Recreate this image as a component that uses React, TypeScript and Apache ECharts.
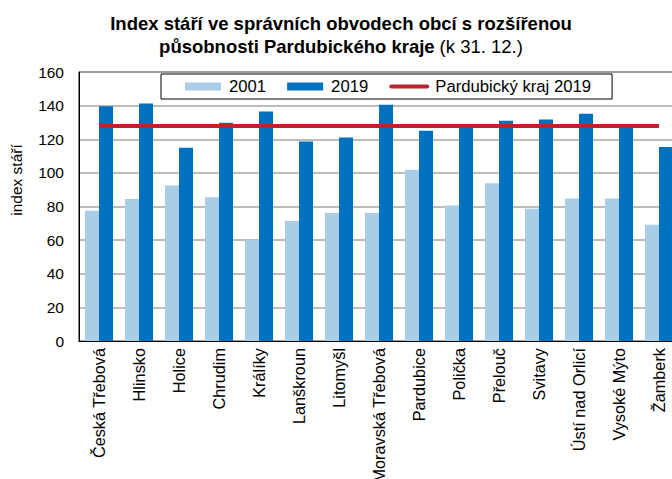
import React, { useEffect, useRef } from "react";
import * as echarts from "echarts";

const categories = [
  "Česká Třebová", "Hlinsko", "Holice", "Chrudim", "Králíky", "Lanškroun", "Litomyšl",
  "Moravská Třebová", "Pardubice", "Polička", "Přelouč", "Svitavy", "Ústí nad Orlicí",
  "Vysoké Mýto", "Žamberk",
];
const values2001 = [77.4, 84.5, 92.5, 85.5, 60.1, 71.4, 76.2, 76.2, 101.8, 80.6, 93.8, 78.6, 84.7, 84.7, 69.2];
const values2019 = [139.7, 141.2, 114.9, 129.8, 136.5, 118.7, 121.0, 140.5, 125.0, 127.3, 131.0, 131.7, 135.1, 127.2, 115.4];
const krajValue = 127.9;
const krajLine = categories.map(() => krajValue);
const yTicks = { min: 0, max: 160, interval: 20 };

const FONT = "'Liberation Sans', Arial, sans-serif";

export default function App() {
  const ref = useRef<HTMLDivElement>(null);
  useEffect(() => {
    if (!ref.current) return;
    const chart = echarts.init(ref.current, undefined, { renderer: "svg" });
    chart.setOption({
      animation: false,
      backgroundColor: "#ffffff",
      textStyle: { fontFamily: FONT },
      title: {
        text: "{b|Index stáří ve správních obvodech obcí s rozšířenou}\n{b|působnosti Pardubického kraje} {n|(k 31. 12.)}",
        left: 336,
        textAlign: "center",
        top: 7,
        textStyle: {
          rich: {
            b: { fontFamily: FONT, fontSize: 18.5, fontWeight: "bold", color: "#000", lineHeight: 23 },
            n: { fontFamily: FONT, fontSize: 18.5, fontWeight: "normal", color: "#000", lineHeight: 23 },
          },
        },
      },
      legend: {
        left: 161,
        top: 74,
        borderColor: "#000",
        borderWidth: 1,
        borderRadius: 0,
        padding: [4, 21, 4, 24],
        itemWidth: 36,
        itemHeight: 8,
        itemGap: 21,
        textStyle: { fontFamily: FONT, fontSize: 16.7, color: "#000", padding: [0, 0, 0, 3] },
        data: [
          { name: "2001", icon: "rect" },
          { name: "2019", icon: "rect" },
          { name: "Pardubický kraj 2019", itemStyle: { opacity: 0 }, lineStyle: { width: 4, cap: "round" } },
        ],
      },
      grid: {
        left: 79,
        top: 72,
        width: 600,
        height: 269,
        show: true,
        borderColor: "#000",
        borderWidth: 1,
        backgroundColor: "transparent",
        outerBoundsMode: "none",
        containLabel: false,
      },
      graphic: [
        {
          type: "text",
          x: 16,
          y: 180,
          rotation: Math.PI / 2,
          style: {
            text: "index stáří",
            fontFamily: FONT,
            fontSize: 15.5,
            fill: "#000",
            align: "center",
            verticalAlign: "middle",
          },
        },
      ],
      xAxis: {
        type: "category",
        data: categories,
        axisLine: { show: true, lineStyle: { color: "#000", width: 1 } },
        axisTick: { show: false },
        axisLabel: {
          rotate: 90,
          interval: 0,
          margin: 7,
          fontFamily: FONT,
          fontSize: 16.3,
          color: "#000",
        },
      },
      yAxis: {
        type: "value",
        min: yTicks.min,
        max: yTicks.max,
        interval: yTicks.interval,
        axisLine: { show: true, lineStyle: { color: "#000", width: 1 } },
        axisTick: { show: false },
        splitLine: { show: true, lineStyle: { color: "#a6a6a6", width: 1.5 } },
        axisLabel: { fontFamily: FONT, fontSize: 15.5, color: "#000", margin: 15 },
      },
      series: [
        {
          name: "2001",
          type: "bar",
          data: values2001,
          barWidth: 14,
          barGap: "0%",
          itemStyle: { color: "#a9cde7" },
        },
        {
          name: "2019",
          type: "bar",
          data: values2019,
          barWidth: 14,
          barGap: "0%",
          itemStyle: { color: "#0070c0" },
        },
        {
          name: "Pardubický kraj 2019",
          type: "line",
          data: krajLine,
          symbol: "none",
          lineStyle: { color: "#c0212e", width: 4 },
          itemStyle: { color: "#c0212e" },
          z: 5,
        },
      ],
    });
    return () => chart.dispose();
  }, []);
  return (
    <div style={{ position: "absolute", left: 0, top: 0, width: 672, height: 479, overflow: "hidden" }}>
      <div ref={ref} style={{ width: 700, height: 479 }} />
    </div>
  );
}
